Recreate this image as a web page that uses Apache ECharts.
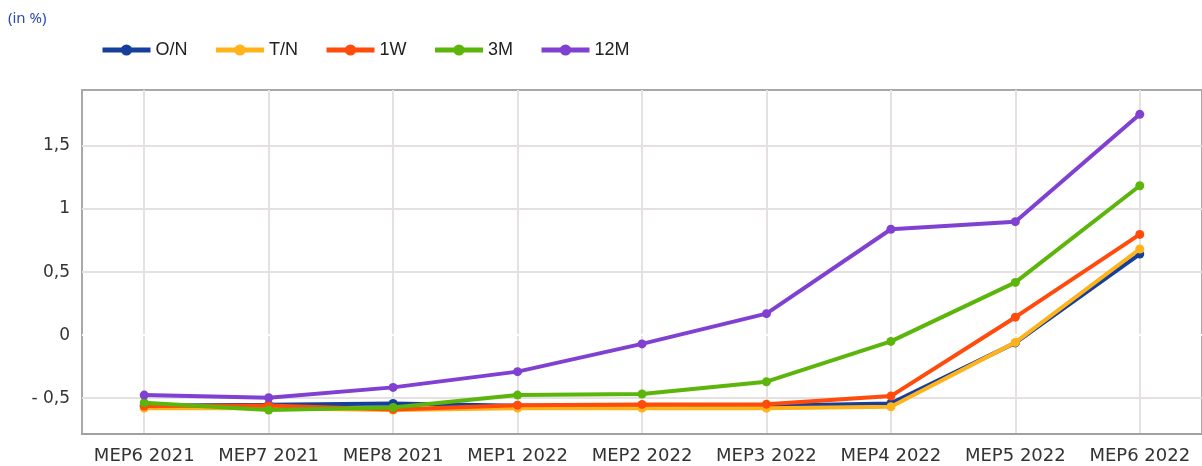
<!DOCTYPE html>
<html>
<head>
<meta charset="utf-8">
<script src="https://cdn.jsdelivr.net/npm/echarts@6/dist/echarts.min.js"></script>
<style>
html,body{margin:0;padding:0;background:#fff;}
#chart{width:1202px;height:466px;}
</style>
</head>
<body>
<div id="chart"></div>
<script>
const categories = ['MEP6 2021','MEP7 2021','MEP8 2021','MEP1 2022','MEP2 2022','MEP3 2022','MEP4 2022','MEP5 2022','MEP6 2022'];
const seriesNames = ['O/N','T/N','1W','3M','12M'];
const valuesON  = [-0.56, -0.553, -0.542, -0.56, -0.56, -0.56, -0.542, -0.062, 0.643];
const valuesTN  = [-0.58, -0.58, -0.595, -0.58, -0.58, -0.58, -0.569, -0.058, 0.683];
const values1W  = [-0.563, -0.558, -0.59, -0.556, -0.55, -0.548, -0.484, 0.142, 0.799];
const values3M  = [-0.537, -0.595, -0.574, -0.476, -0.468, -0.37, -0.05, 0.418, 1.185];
const values12M = [-0.476, -0.497, -0.415, -0.29, -0.07, 0.17, 0.84, 0.90, 1.752];
const yTicks = [-0.5, 0, 0.5, 1, 1.5];
const colors = ['#163f9b', '#ffb21a', '#ff4b0c', '#5cb50b', '#8040d2'];

const allValues = [valuesON, valuesTN, values1W, values3M, values12M];
const chart = echarts.init(document.getElementById('chart'), null, {renderer: 'canvas'});
const fmt = v => {
  let s = String(v).replace('.', ',');
  if (v < 0) s = '- ' + s.slice(1);
  return s;
};
const series = allValues.map((vals, i) => ({
  name: seriesNames[i],
  type: 'line',
  data: vals,
  symbol: 'circle',
  symbolSize: 9,
  showSymbol: true,
  lineStyle: {width: 4, color: colors[i]},
  itemStyle: {color: colors[i]},
  z: 3 + i
}));
// white zero line (as in the reference, the 0 gridline is blank)
series.push({
  name: 'zero',
  type: 'line',
  data: [],
  z: 1,
  silent: true,
  markLine: {
    silent: true,
    z: 1,
    symbol: 'none',
    label: {show: false},
    lineStyle: {color: '#ffffff', width: 2, type: 'solid'},
    data: [{yAxis: 0}]
  }
});
chart.setOption({
  animation: false,
  color: colors,
  title: {
    text: '(in %)', left: 3, top: 6,
    textStyle: {fontFamily: 'Noto Sans', fontSize: 15, fontWeight: 'normal', color: '#2b4cb0'}
  },
  legend: {
    data: seriesNames,
    left: 95, top: 36,
    itemWidth: 48, itemHeight: 14, itemGap: 26,
    lineStyle: {width: 5},
    textStyle: {fontFamily: 'Liberation Sans', fontSize: 18, color: '#222'}
  },
  grid: {
    left: 82, right: -1, top: 90, bottom: 32,
    show: true, borderColor: '#a9a9a9', borderWidth: 2, backgroundColor: 'transparent'
  },
  xAxis: {
    type: 'category',
    data: categories,
    boundaryGap: true,
    axisLine: {show: true, onZero: false, lineStyle: {color: '#a0a0a0', width: 2}},
    axisTick: {show: false},
    axisLabel: {fontFamily: 'DejaVu Sans', fontSize: 18, color: '#333', margin: 13, interval: 0},
    splitLine: {show: true, alignWithLabel: true, interval: 0, lineStyle: {color: '#e5e1e1', width: 2}}
  },
  yAxis: {
    type: 'value',
    min: -0.785, max: 1.945,
    axisLine: {show: false},
    axisTick: {show: false, customValues: yTicks},
    axisLabel: {customValues: yTicks, fontFamily: 'DejaVu Sans', fontSize: 17, color: '#333', margin: 12, formatter: fmt},
    splitLine: {show: true, lineStyle: {color: '#e5e1e1', width: 2}}
  },
  series: series
});
</script>
</body>
</html>
